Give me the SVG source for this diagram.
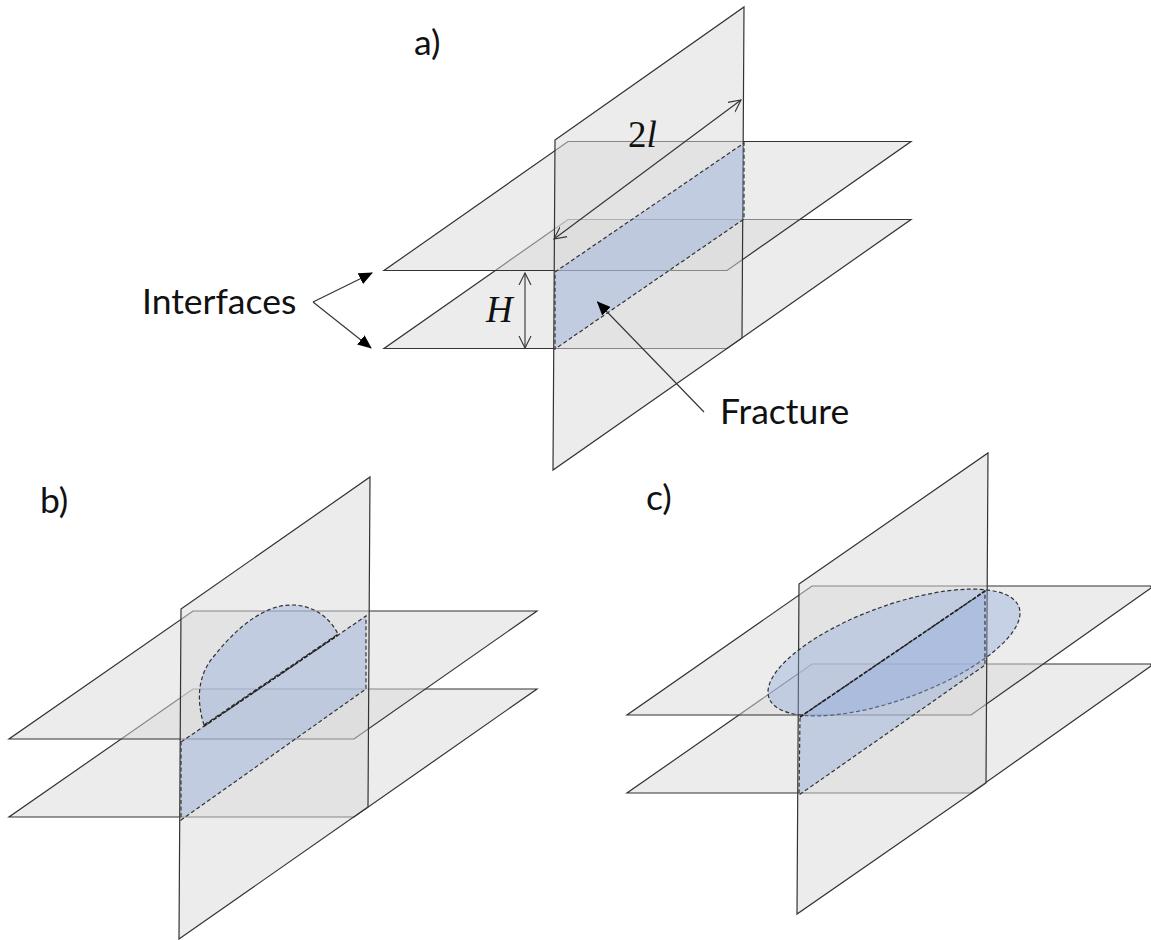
<svg xmlns="http://www.w3.org/2000/svg" width="1151" height="940" viewBox="0 0 1151 940">
<style>
.p{fill:#d9d9d9;fill-opacity:.5;stroke:#333;stroke-width:1.2}
.f{fill:#8faadc;fill-opacity:.4;stroke:#333;stroke-width:1.2;stroke-dasharray:4 2.5}
.d{fill:none;stroke:#222;stroke-width:1.6;stroke-dasharray:4 1.5}
.c{fill:none;stroke:#333;stroke-width:1.1}
.t{font-family:Lato,"Open Sans",sans-serif;font-size:35.5px;fill:#111}
.m{font-family:"Liberation Serif",serif;font-size:37px;fill:#111}
</style>
<defs>
<marker id="solid" markerWidth="14" markerHeight="12" refX="13" refY="6" orient="auto" markerUnits="userSpaceOnUse"><path d="M0,0L14,6L0,12Z" fill="#000"/></marker>
<marker id="open" markerWidth="14" markerHeight="14" refX="12" refY="7" orient="auto-start-reverse" markerUnits="userSpaceOnUse"><path d="M0,1L12,7L0,13" fill="none" stroke="#333" stroke-width="1.1"/></marker>
</defs>
<g id="panel-a">
<polygon class="p" points="568,219.5 911,219.5 727,348.5 384,348.5"/>
<polygon class="p" points="568,141.5 911,141.5 727,270.5 384,270.5"/>
<polygon class="p" points="555,140 744,7 742,338 553,470"/>
<polygon class="f" points="555,272 744,143 744,219 555,349"/>
<text class="t" x="414" y="55">a)</text>
</g>
<g id="panel-b">
<polygon class="p" points="193,689 537,689 354,817 9,817"/>
<polygon class="p" points="193,611 537,611 354,739 9,739"/>
<polygon class="p" points="181,609 370,477 368,807 179,939"/>
<path class="f" d="M204,725C197,703 196,676 215,655C233,632 262,605 291,605C314,605 330,618 338,634Z"/>
<polygon class="f" points="181,742 366,616 366,689 181,820"/>
<line class="d" x1="204" y1="726" x2="338" y2="635"/>
<text class="t" x="40" y="513">b)</text>
</g>
<g id="panel-c">
<polygon class="p" points="812,664 1151,664 1151,666 971,793 627,793"/>
<polygon class="p" points="812,586 1151,586 1151,588 971,715 627,715"/>
<polygon class="p" points="799,584 988,453 986,783 797,914"/>
<ellipse class="f" cx="894" cy="652.5" rx="133" ry="47" transform="rotate(-20 894 652.5)"/>
<polygon class="f" points="800,717 985,591 985,665 799,795"/>
<line class="d" x1="800" y1="717" x2="985" y2="591"/>
<text class="t" x="646" y="510">c)</text>
</g>
<g id="connectors">
<line class="c" x1="313" y1="302" x2="372" y2="273" marker-end="url(#solid)"/>
<line class="c" x1="313" y1="302" x2="371" y2="348" marker-end="url(#solid)"/>
<line class="c" x1="704" y1="412" x2="597.5" y2="302" marker-end="url(#solid)"/>
<line class="c" x1="525" y1="273" x2="525" y2="348" marker-start="url(#open)" marker-end="url(#open)"/>
<line class="c" x1="554" y1="239" x2="741" y2="100" marker-start="url(#open)" marker-end="url(#open)"/>
</g>
<g id="labels">
<text class="t" x="142" y="314">Interfaces</text>
<text class="t" x="720" y="424">Fracture</text>
<text class="m" x="628" y="147">2<tspan font-style="italic">l</tspan></text>
<text class="m" x="486" y="322" font-style="italic">H</text>
</g>
</svg>
